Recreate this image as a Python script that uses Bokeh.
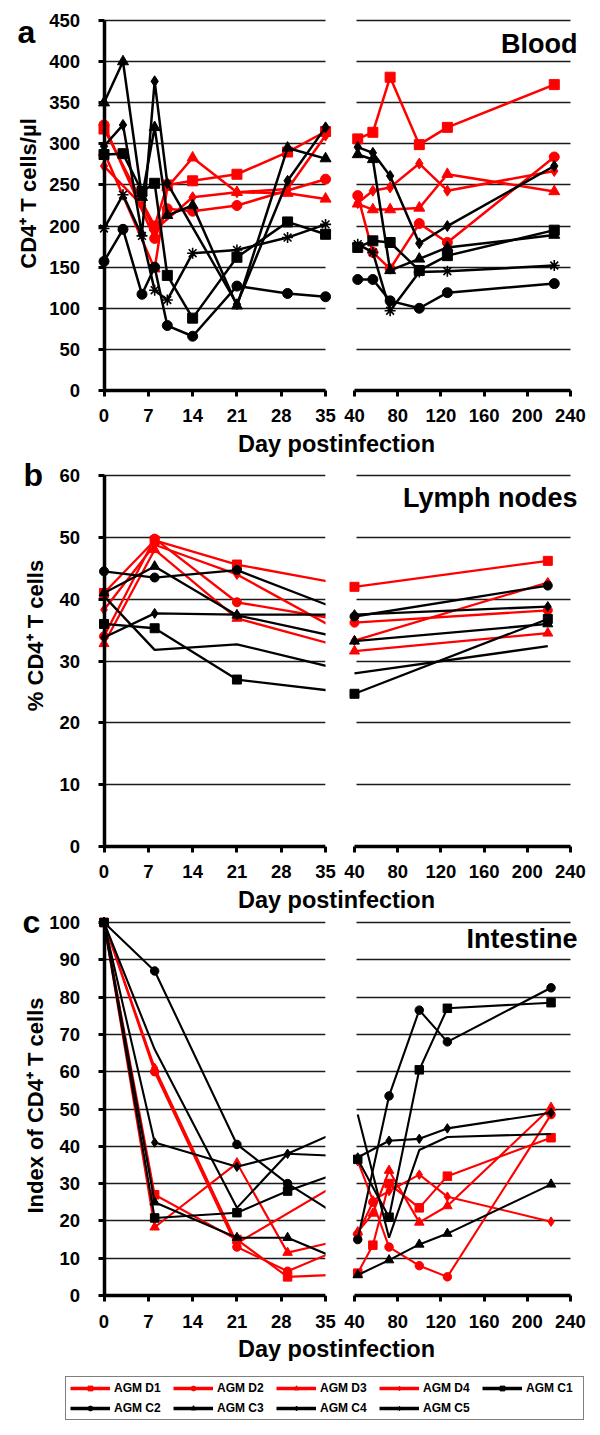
import math
from bokeh.plotting import figure
from bokeh.models import (Range1d, FixedTicker, Label, Legend, LegendItem, ColumnDataSource,
                          Grid, BoxAnnotation)
from bokeh.layouts import column, row
from bokeh.embed import file_html
from bokeh.resources import INLINE

FONT = "Liberation Sans"
RED = "#FF0000"
BLACK = "#000000"

series_names = ["AGM D1", "AGM D2", "AGM D3", "AGM D4", "AGM C1", "AGM C2", "AGM C3", "AGM C4", "AGM C5"]
series_colors = [RED, RED, RED, RED, BLACK, BLACK, BLACK, BLACK, BLACK]
series_markers = ["square", "circle", "triangle", "diamond", "square", "circle", "triangle", "diamond", "asterisk"]

# ---------------- Panel a: Blood (CD4+ T cells/µl) ----------------
blood_early_days = [0, 3, 6, 8, 10, 14, 21, 29, 35]
blood_early = {
    "AGM D1": [318, None, None, 200, 250, 255, 263, 290, 315],
    "AGM D2": [323, None, None, 185, 221, 218, 225, None, 257],
    "AGM D3": [290, None, None, 148, 247, 283, 241, 240, 233],
    "AGM D4": [273, None, 225, 195, None, 235, 241, 245, 310],
    "AGM C1": [287, 288, 242, 252, 140, 88, 162, 205, 190],
    "AGM C2": [157, 196, 117, 150, 79, 66, 127, 118, 114],
    "AGM C3": [350, 400, 235, 320, 213, 225, 103, 295, 282],
    "AGM C4": [297, 323, 190, 376, 252, None, 105, 255, 320],
    "AGM C5": [197, 238, 188, 122, 110, 167, 171, 186, 202],
}
blood_late_days = [43, 57, 73, 100, 126, 225]
blood_late = {
    "AGM D1": [306, 314, 381, 299, 320, 372],
    "AGM D2": [237, 168, 148, 203, 180, 284],
    "AGM D3": [227, 220, 220, 222, 263, 242],
    "AGM D4": [228, 243, 247, 276, 243, 267],
    "AGM C1": [174, 182, 180, 146, 164, 195],
    "AGM C2": [135, 135, 109, 100, 119, 130],
    "AGM C3": [287, 281, 146, 160, 174, 189],
    "AGM C4": [296, 289, 261, 179, 200, 273],
    "AGM C5": [178, 168, 97, 144, 145, 152],
}

# ---------------- Panel b: Lymph nodes (% CD4+ T cells) ----------------
lymph_early_days = [0, 8, 21, 40]
lymph_early = {
    "AGM D1": [41, 49.5, 45.6, 42],
    "AGM D2": [34, 49.8, 39.5, 36.2],
    "AGM D3": [32.8, 48, 36.9, 31.6],
    "AGM D4": [38.3, 48.8, 44, 33.3],
    "AGM C1": [36, 35.3, 27, 24.7],
    "AGM C2": [44.5, 43.5, 44.7, 37.2],
    "AGM C3": [41, 45.3, 37.4, 33.2],
    "AGM C4": [33.8, 37.7, 37.5, 37.5],
    "AGM C5": [40.5, 31.8, 32.7, 28],
}
lymph_late_days = [40, 219]
lymph_late = {
    "AGM D1": [42, 46.2],
    "AGM D2": [36.2, 38.2],
    "AGM D3": [31.6, 34.5],
    "AGM D4": [33.3, 42.7],
    "AGM C1": [24.7, 36.8],
    "AGM C2": [37.2, 42.2],
    "AGM C3": [33.2, 36.0],
    "AGM C4": [37.5, 38.8],
    "AGM C5": [28, 32.4],
}

# ---------------- Panel c: Intestine (index of CD4+ T cells) ----------------
gut_early_days = [0, 8, 21, 29, 43]
gut_early = {
    "AGM D1": [100, 27, 15, 5, 6],
    "AGM D2": [100, 60, 13, 6.5, 16.5],
    "AGM D3": [100, 18.3, 35.5, 11.5, 17],
    "AGM D4": [100, 61, 14, None, 36],
    "AGM C1": [100, 20.8, 22.2, 28, 36.5],
    "AGM C2": [100, 87, 40.5, 30, 15],
    "AGM C3": [100, 25, 15.5, 15.5, 5.5],
    "AGM C4": [100, 41, 34.5, 38, 37],
    "AGM C5": [100, 66, 23.5, 38, 48.5],
}
gut_late_days = [43, 57, 72, 100, 126, 222]
gut_late = {
    "AGM D1": [6, 13.5, 30, 23.5, 32, 42.3],
    "AGM D2": [16.5, 25, 13, 8, 5, 48.5],
    "AGM D3": [17, 22, 33.5, 19.6, 24, 50.4],
    "AGM D4": [36, 25.5, 28, 32.4, 26.5, 19.8],
    "AGM C1": [36.5, None, 21, 60.5, 77, 78.5],
    "AGM C2": [15, None, 53.5, 76.5, 68, 82.5],
    "AGM C3": [5.5, None, 9.5, 13.7, 16.6, 29.8],
    "AGM C4": [37, None, 41.5, 42, 44.8, 49],
    "AGM C5": [48.5, None, 15.5, 39, 42.5, 43.3],
}

early_ticks = [0, 7, 14, 21, 28, 35]
late_ticks = [40, 80, 120, 160, 200, 240]
blood_ticks = list(range(0, 451, 50))
lymph_ticks = list(range(0, 61, 10))
gut_ticks = list(range(0, 101, 10))

HAS_CROSS = "cross_bounds" in Grid.properties()

STRIP_W = 48          # width of the strip that holds the panel letters and y titles
LEFT_START = -8.77    # day at the left canvas edge of the early panels
LEFT_END = 37.36      # day at the right canvas edge of the early panels
RIGHT_START = 27.04   # day at the left canvas edge of the late panels
RIGHT_END = 267.8     # day at the right canvas edge of the late panels
BOTTOM = 40           # pixels under the zero line kept for the tick labels


def style_axis(ax, ticks):
    ax.ticker = FixedTicker(ticks=ticks)
    ax.axis_line_width = 3.5
    ax.axis_line_color = BLACK
    ax.major_tick_line_width = 3
    ax.major_tick_line_color = BLACK
    ax.major_tick_out = 6
    ax.major_tick_in = 0
    ax.minor_tick_line_color = None
    ax.major_label_text_font = FONT
    ax.major_label_text_font_style = "bold"
    ax.major_label_text_font_size = "18.5px"
    ax.major_label_text_color = BLACK


def base_fig(width, height, xr, yr, has_y):
    p = figure(width=width, height=height, x_range=xr, y_range=yr,
               toolbar_location=None, output_backend="svg",
               y_axis_location="left" if has_y else None, min_border=0)
    p.outline_line_color = None
    p.xgrid.visible = False
    p.ygrid.grid_line_color = "#1a1a1a"
    p.ygrid.grid_line_width = 1.4
    return p


def add_grid(p, ticks, x0, x1):
    p.ygrid.ticker = FixedTicker(ticks=ticks)
    if HAS_CROSS:
        p.ygrid.cross_bounds = (x0, x1)
    else:
        p.ygrid.visible = False
        p.segment(x0=[x0] * len(ticks), x1=[x1] * len(ticks), y0=ticks, y1=ticks,
                  line_color="#1a1a1a", line_width=1.4, level="underlay")


def draw_series(p, days, table, msize, lw, no_marker=()):
    for name, col, mk in zip(series_names, series_colors, series_markers):
        vals = table[name]
        xs = [d for d, v in zip(days, vals) if v is not None]
        ys = [v for v in vals if v is not None]
        src = ColumnDataSource(dict(x=xs, y=ys))
        p.line("x", "y", source=src, line_color=col, line_width=lw)
        if name in no_marker:
            continue
        if mk == "asterisk":
            p.scatter("x", "y", source=src, marker=mk, size=msize + 1,
                      line_color=col, line_width=1.6)
        else:
            sz = msize + 1 if mk in ("triangle", "diamond") else msize
            p.scatter("x", "y", source=src, marker=mk, size=sz,
                      fill_color=col, line_color=col)


def txt(x, y, text, size, align="left", angle=0.0):
    return Label(x=x, y=y, text=text, angle=angle,
                 text_font=FONT, text_font_style="bold", text_font_size=size,
                 text_align=align, text_baseline="middle", text_color=BLACK)


def panel(title, y_bottom, y_top_range, ticks, y_axis_top, early_days, early, late_days, late,
          height, msize, lw, title_y, no_marker=(), cut_at_35=False):
    yr = Range1d(y_bottom, y_top_range)
    left = base_fig(340 - STRIP_W, height, Range1d(LEFT_START, LEFT_END), yr, True)
    style_axis(left.xaxis, early_ticks)
    left.xaxis.bounds = (0, 35)
    left.xaxis.fixed_location = 0
    left.xaxis.major_label_standoff = 13
    style_axis(left.yaxis, ticks)
    left.yaxis.bounds = (0, y_axis_top)
    left.yaxis.fixed_location = 0
    left.yaxis.major_label_standoff = 18
    add_grid(left, ticks, 0, 35)
    draw_series(left, early_days, early, msize, lw, no_marker)
    if cut_at_35:
        # the early chart ends at day 35: lines running on to the next time point stop there
        left.add_layout(BoxAnnotation(left=35, bottom=0, fill_color="white", fill_alpha=1.0,
                                      line_color=None))

    right = base_fig(260, height, Range1d(RIGHT_START, RIGHT_END), yr, False)
    style_axis(right.xaxis, late_ticks)
    right.xaxis.bounds = (40, 240)
    right.xaxis.fixed_location = 0
    right.xaxis.major_label_standoff = 13
    add_grid(right, ticks, 41.5, 240)
    draw_series(right, late_days, late, msize, lw, no_marker)
    right.add_layout(txt(246.5, title_y, title, "27px", "right"))
    return row(left, right)


def plain_fig(width, height, flip=False):
    f = figure(width=width, height=height, x_range=Range1d(0, width),
               y_range=Range1d(height, 0) if flip else Range1d(0, height),
               toolbar_location=None, output_backend="svg",
               x_axis_location=None, y_axis_location=None, min_border=0)
    f.outline_line_color = None
    f.grid.visible = False
    return f


def xlabel_fig(height, mid_y):
    f = plain_fig(600 - STRIP_W, height)
    f.add_layout(txt(336 - STRIP_W, mid_y, "Day postinfection", "23.5px", "center"))
    return f


row_a = panel("Blood", -48.65, 474.3, blood_ticks, 450, blood_early_days, blood_early,
              blood_late_days, blood_late, 390 + BOTTOM, 10, 2.5, 421.7)
lab_a = xlabel_fig(30, 16.9)
row_b = panel("Lymph nodes", -6.47, 62.43, lymph_ticks, 60, lymph_early_days, lymph_early,
              lymph_late_days, lymph_late, 386 + BOTTOM, 9, 2.3, 56.3,
              no_marker=("AGM C5",), cut_at_35=True)
lab_b = xlabel_fig(27, 13.9)
row_c = panel("Intestine", -10.72, 102.41, gut_ticks, 100, gut_early_days, gut_early,
              gut_late_days, gut_late, 382 + BOTTOM, 8.5, 2.1, 95.6,
              no_marker=("AGM C5",), cut_at_35=True)
lab_c = xlabel_fig(26, 12.9)
main_col = column(row_a, lab_a, row_b, lab_b, row_c, lab_c, spacing=0)

# strip with panel letters and y-axis titles (y grows downwards, in pixels)
strip = plain_fig(STRIP_W, 1361, flip=True)
strip.add_layout(txt(17, 31.2, "a", "32px"))
strip.add_layout(txt(23, 474, "b", "32px"))
strip.add_layout(txt(22, 921.2, "c", "32px"))
strip.add_layout(txt(27.5, 193, "CD4\u207a T cells/\u00b5l", "22px", "center", math.pi / 2))
strip.add_layout(txt(35, 635, "% CD4\u207a T cells", "22px", "center", math.pi / 2))
strip.add_layout(txt(35, 1105, "Index of CD4\u207a T cells", "22px", "center", math.pi / 2))

# legend
lf = plain_fig(600, 74)
items = []
for name, col, mk in zip(series_names, series_colors, series_markers):
    src = ColumnDataSource(dict(x=[float("nan")], y=[float("nan")]))
    r1 = lf.line("x", "y", source=src, line_color=col, line_width=3.5)
    if mk == "asterisk":
        r2 = lf.scatter("x", "y", source=src, marker=mk, size=6, line_color=col, line_width=1)
    else:
        r2 = lf.scatter("x", "y", source=src, marker=mk, size=6, fill_color=col, line_color=col)
    items.append(LegendItem(label=name, renderers=[r1, r2]))
leg = Legend(items=items, location=(65, 15), orientation="horizontal", ncols=5,
             border_line_color=BLACK, border_line_width=1, background_fill_color="white",
             label_text_font=FONT, label_text_font_style="bold", label_text_font_size="12px",
             label_text_color=BLACK,
             glyph_width=40, glyph_height=12, label_height=12, label_width=53,
             label_standoff=4, spacing=6, padding=4, margin=0)
lf.add_layout(leg, "center")

layout = column(row(strip, main_col, spacing=0), lf, spacing=0)

with open("out.html", "w") as fh:
    fh.write(file_html(layout, INLINE))
